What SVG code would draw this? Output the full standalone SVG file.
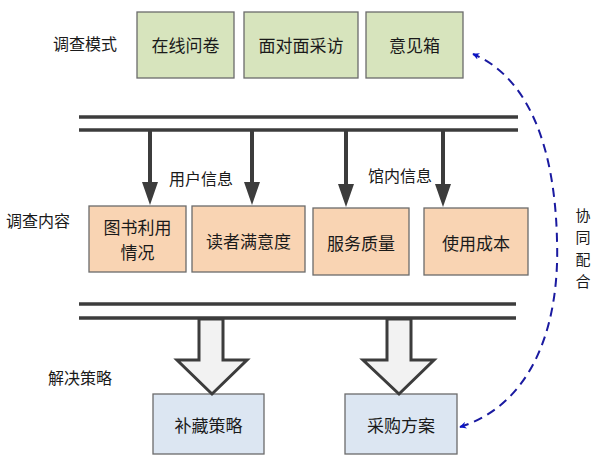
<svg xmlns="http://www.w3.org/2000/svg" width="600" height="463" viewBox="0 0 600 463">
<defs>
<style>
text{font-family:"Noto Sans CJK SC","Noto Sans CJK TC",sans-serif;fill:#1a1a1a;text-anchor:middle;dominant-baseline:central}
.lbl{font-size:16px}
.vt{font-size:15px}
.bt{font-size:17px}
.g{fill:#d7e4bd;stroke:#6b6b6b;stroke-width:1.3}
.o{fill:#f9d4b3;stroke:#6b6b6b;stroke-width:1.3}
.b{fill:#dce6f2;stroke:#6b6b6b;stroke-width:1.3}
.bus{stroke:#3c3c3c;stroke-width:3.5;fill:none}
.shaft{stroke:#3c3c3c;stroke-width:4;fill:none}
.head{fill:#3c3c3c}
.blk{fill:#f2f2f2;stroke:#3c3c3c;stroke-width:3;stroke-linejoin:miter}
</style>
<marker id="ba" viewBox="0 0 10 10" refX="9" refY="5" markerWidth="7" markerHeight="7" markerUnits="userSpaceOnUse" orient="auto-start-reverse">
<path d="M0,0 L10,5 L0,10 L3,5 Z" fill="#0a14c8"/>
</marker>
</defs>

<text class="lbl" x="85" y="43">调查模式</text>
<text class="lbl" x="38" y="220">调查内容</text>
<text class="lbl" x="80" y="377">解决策略</text>
<text class="lbl" x="201" y="178">用户信息</text>
<text class="lbl" x="400" y="175">馆内信息</text>
<g id="label-cooperate">
<text class="vt" x="583" y="214">协</text>
<text class="vt" x="583" y="236">同</text>
<text class="vt" x="583" y="258">配</text>
<text class="vt" x="583" y="280">合</text>
</g>

<g id="n-online"><rect class="g" x="137" y="12" width="97" height="66"/><text class="bt" x="185.5" y="44">在线问卷</text></g>
<g id="n-interview"><rect class="g" x="244" y="12" width="114" height="66"/><text class="bt" x="301" y="44">面对面采访</text></g>
<g id="n-box"><rect class="g" x="366" y="12" width="97" height="66"/><text class="bt" x="414.5" y="44">意见箱</text></g>

<g id="n-usage"><rect class="o" x="89" y="206" width="97" height="66"/><text class="bt" x="137.5" y="226">图书利用</text><text class="bt" x="137.5" y="251">情况</text></g>
<g id="n-satisfaction"><rect class="o" x="192" y="206" width="113" height="66"/><text class="bt" x="248.5" y="240">读者满意度</text></g>
<g id="n-quality"><rect class="o" x="313" y="208" width="96" height="67"/><text class="bt" x="361" y="242">服务质量</text></g>
<g id="n-cost"><rect class="o" x="424" y="208" width="104" height="67"/><text class="bt" x="476" y="242">使用成本</text></g>

<g id="n-replenish"><rect class="b" x="153" y="394" width="111" height="60"/><text class="bt" x="208.5" y="424">补藏策略</text></g>
<g id="n-purchase"><rect class="b" x="345" y="394" width="112" height="60"/><text class="bt" x="401" y="424">采购方案</text></g>

<g id="connectors">
<line class="bus" x1="79" y1="117" x2="518" y2="117"/>
<line class="bus" x1="79" y1="130" x2="518" y2="130"/>
<line class="shaft" x1="150" y1="130" x2="150" y2="184"/>
<polygon class="head" points="142,182 158,182 150,205"/>
<line class="shaft" x1="252" y1="130" x2="252" y2="184"/>
<polygon class="head" points="244,182 260,182 252,205"/>
<line class="shaft" x1="346" y1="130" x2="346" y2="186"/>
<polygon class="head" points="338,184 354,184 346,207"/>
<line class="shaft" x1="443" y1="130" x2="443" y2="186"/>
<polygon class="head" points="435,184 451,184 443,207"/>

<line class="bus" x1="79" y1="304" x2="516" y2="304"/>
<line class="bus" x1="79" y1="318" x2="516" y2="318"/>
<polygon class="blk" points="199,319 223,319 223,360 247,360 212,394 177,360 199,360"/>
<polygon class="blk" points="387,319 411,319 411,360 434,360 399,394 363,360 387,360"/>

<path d="M460,427 C530,405 560,330 557,240 C555,150 530,78 473,54" fill="none" stroke="#1a1aa0" stroke-width="2" stroke-dasharray="9,6" marker-start="url(#ba)" marker-end="url(#ba)"/>
</g>
</svg>
